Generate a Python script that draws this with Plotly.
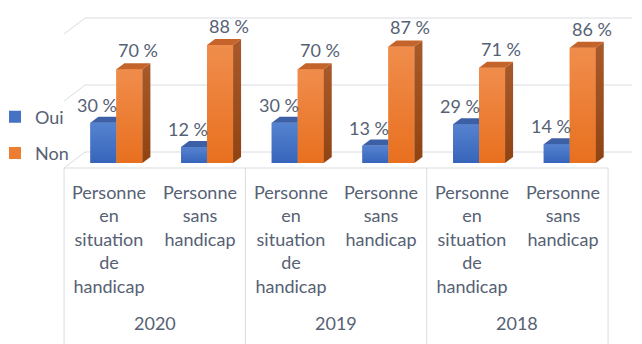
import plotly.graph_objects as go

# ---------------- data ----------------
years = ["2020", "2019", "2018"]
category_labels = [
    "Personne<br>en<br>situation<br>de<br>handicap",
    "Personne<br>sans<br>handicap",
] * 3
oui = [30, 12, 30, 13, 29, 14]
non = [70, 88, 70, 87, 71, 86]
series_names = ["Oui", "Non"]

# ---------------- styling / geometry ----------------
W, H = 642, 344
FONT = "Lato, 'Open Sans', sans-serif"
TXT = "#566174"
GRID = "#d9dce1"
BLUE, BLUE_LIGHT, BLUE_DARK, BLUE_TOP = "#4472C4", "#5683d0", "#3664ba", "#3c5fa6"
ORANGE, ORANGE_LIGHT, ORANGE_DARK = "#ED7D31", "#f08d4c", "#e8701f"
ORANGE_TOP = "#c4642b"
SIDE_LIGHT, SIDE_DARK = "#a95a2a", "#8f4313"

UX = 90.67          # px per category
UY = 1.34           # px per percent
CX0 = 109.4         # px of category 0
CY0 = 163.0         # px of value 0 (bar front plane)


def X(pix):
    return (pix - CX0) / UX


def Y(pix):
    return (CY0 - pix) / UY


xr = [X(0), X(W)]
yr = [Y(H), Y(0)]

BW = 26 / UX
OFF_OUI = -19 / UX
OFF_NON = OFF_OUI + BW
DX, DY = 8 / UX, 6 / UY          # bar depth
WX, WY = 21 / UX, 16 / UY        # floor depth
FRONT = -5 / UY                  # front floor edge relative to bar plane

idx = list(range(len(oui)))

fig = go.Figure()

# front faces (bars)
fig.add_trace(go.Bar(x=idx, y=oui, width=BW, offset=OFF_OUI, name=series_names[0],
                     marker=dict(color=BLUE, line=dict(width=0)), legendgroup="a",
                     hoverinfo="skip"))
fig.add_trace(go.Bar(x=idx, y=non, width=BW, offset=OFF_NON, name=series_names[1],
                     marker=dict(color=ORANGE, line=dict(width=0)), legendgroup="b",
                     hoverinfo="skip"))


def grad(xs, ys, lo, hi):
    fig.add_trace(go.Scatter(
        x=xs, y=ys, fill="toself", mode="none",
        fillgradient=dict(type="vertical", colorscale=[[0, lo], [1, hi]]),
        showlegend=False, hoverinfo="skip"))


# shading of the front faces (same geometry as the bars)
for i, v in zip(idx, oui):
    x0 = i + OFF_OUI
    grad([x0, x0 + BW, x0 + BW, x0, x0], [0, 0, v, v, 0], BLUE_DARK, BLUE_LIGHT)

# top faces of Oui (part not hidden by the Non bar)
bx, by = [], []
for i, v in zip(idx, oui):
    x0 = i + OFF_OUI
    x1 = x0 + BW
    bx += [x0, x1, x1, x0 + DX, x0, None]
    by += [v, v, v + DY, v + DY, v, None]
fig.add_trace(go.Scatter(x=bx, y=by, fill="toself", mode="none", fillcolor=BLUE_TOP,
                         showlegend=False, hoverinfo="skip"))

tx, ty = [], []
for i, v in zip(idx, non):
    x0 = i + OFF_NON
    x1 = x0 + BW
    grad([x0, x1, x1, x0, x0], [0, 0, v, v, 0], ORANGE_DARK, ORANGE_LIGHT)
    grad([x1, x1, x1 + DX, x1 + DX, x1], [0, v, v + DY, DY, 0], SIDE_DARK, SIDE_LIGHT)
    tx += [x0, x1, x1 + DX, x0 + DX, x0, None]
    ty += [v, v, v + DY, v + DY, v, None]
fig.add_trace(go.Scatter(x=tx, y=ty, fill="toself", mode="none", fillcolor=ORANGE_TOP,
                         showlegend=False, hoverinfo="skip"))

shapes = []
line = dict(color=GRID, width=1)
left = -0.5
right = len(idx) - 0.5
# back wall gridlines + left diagonals
for v in [0, 50, 100]:
    shapes.append(dict(type="line", xref="x", yref="y", x0=left + WX, x1=X(632),
                       y0=v + FRONT + WY, y1=v + FRONT + WY, line=line, layer="below"))
    shapes.append(dict(type="line", xref="x", yref="y", x0=left, x1=left + WX,
                       y0=v + FRONT, y1=v + FRONT + WY, line=line, layer="below"))
# table
shapes.append(dict(type="line", xref="x", yref="y", x0=left, x1=right,
                   y0=FRONT, y1=FRONT, line=line, layer="below"))
for b in range(0, len(idx) + 1, 2):
    shapes.append(dict(type="line", xref="x", yref="y", x0=b - 0.5, x1=b - 0.5,
                       y0=FRONT, y1=yr[0], line=line, layer="below"))

ann = []
for i, v in zip(idx, oui):
    ann.append(dict(x=i + OFF_OUI + BW / 2, y=v, text=f"{v} %", showarrow=False,
                    xshift=-6, yshift=18, yanchor="middle"))
for i, v in zip(idx, non):
    ann.append(dict(x=i + OFF_NON + BW / 2, y=v, text=f"{v} %", showarrow=False,
                    xshift=9, yshift=19, yanchor="middle"))
for i, lab in zip(idx, category_labels):
    ann.append(dict(x=i, y=Y(179), text=lab, showarrow=False, yanchor="top"))
for k, yrs in enumerate(years):
    ann.append(dict(x=2 * k + 0.5, y=Y(323), text=yrs, showarrow=False, yanchor="middle"))

fig.update_layout(
    width=W, height=H,
    margin=dict(l=0, r=0, t=0, b=0, autoexpand=False),
    paper_bgcolor="white", plot_bgcolor="white",
    font=dict(family=FONT, size=18, color=TXT),
    barmode="overlay",
    xaxis=dict(range=xr, visible=False, fixedrange=True),
    yaxis=dict(range=yr, visible=False, fixedrange=True),
    shapes=shapes,
    annotations=ann,
    showlegend=True,
    legend=dict(x=-5 / W, xanchor="left", y=1 - 135 / H, yanchor="middle",
                font=dict(family=FONT, size=18, color=TXT), tracegroupgap=10,
                bgcolor="rgba(0,0,0,0)"),
)

fig.write_html("out.html")
